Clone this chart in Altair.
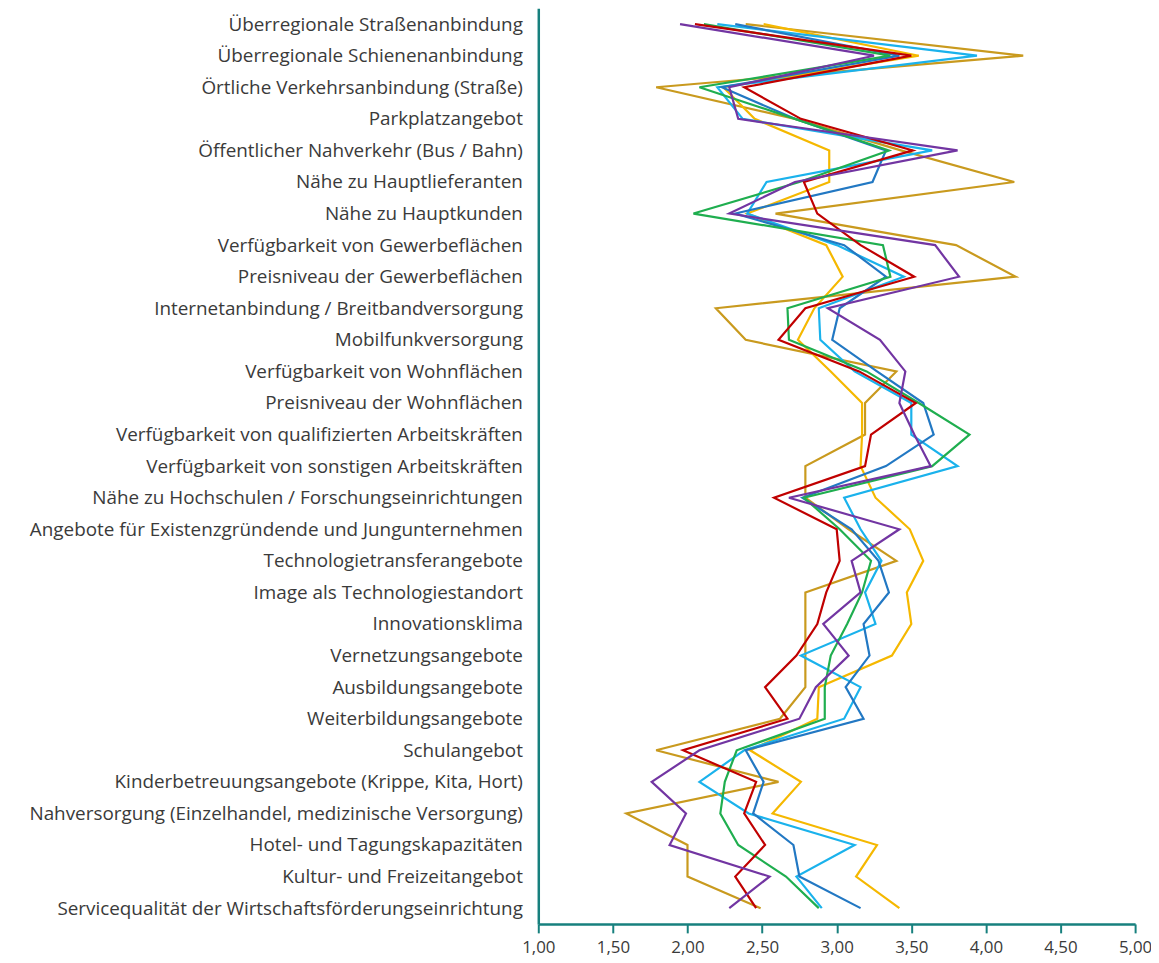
import altair as alt
import pandas as pd

kategorien = [
    "Überregionale Straßenanbindung",
    "Überregionale Schienenanbindung",
    "Örtliche Verkehrsanbindung (Straße)",
    "Parkplatzangebot",
    "Öffentlicher Nahverkehr (Bus / Bahn)",
    "Nähe zu Hauptlieferanten",
    "Nähe zu Hauptkunden",
    "Verfügbarkeit von Gewerbeflächen",
    "Preisniveau der Gewerbeflächen",
    "Internetanbindung  / Breitbandversorgung",
    "Mobilfunkversorgung",
    "Verfügbarkeit von Wohnflächen",
    "Preisniveau der Wohnflächen",
    "Verfügbarkeit von qualifizierten Arbeitskräften",
    "Verfügbarkeit von sonstigen Arbeitskräften",
    "Nähe zu Hochschulen / Forschungseinrichtungen",
    "Angebote für Existenzgründende und Jungunternehmen",
    "Technologietransferangebote",
    "Image als Technologiestandort",
    "Innovationsklima",
    "Vernetzungsangebote",
    "Ausbildungsangebote",
    "Weiterbildungsangebote",
    "Schulangebot",
    "Kinderbetreuungsangebote (Krippe, Kita, Hort)",
    "Nahversorgung (Einzelhandel, medizinische Versorgung)",
    "Hotel- und Tagungskapazitäten",
    "Kultur- und Freizeitangebot",
    "Servicequalität der Wirtschaftsförderungseinrichtung",
]

serie_rot = [2.05, 3.50, 2.38, 2.76, 3.51, 2.78, 2.87, 3.16, 3.52, 2.79, 2.61, 3.15, 3.53, 3.23, 3.19,
             2.58, 3.00, 3.02, 2.93, 2.87, 2.73, 2.52, 2.67, 1.97, 2.46, 2.38, 2.52, 2.32, 2.46]
serie_ocker = [2.39, 4.25, 1.79, 2.72, 3.43, 4.19, 2.59, 3.80, 4.20, 2.19, 2.39, 3.40, 3.19, 3.19, 2.79,
               2.79, 3.08, 3.40, 2.79, 2.79, 2.79, 2.79, 2.62, 1.79, 2.61, 1.59, 2.00, 2.00, 2.49]
serie_gelb = [2.51, 3.55, 2.24, 2.45, 2.95, 2.95, 2.40, 2.93, 3.04, 2.85, 2.74, 2.96, 3.17, 3.17, 3.16,
              3.26, 3.49, 3.58, 3.47, 3.50, 3.37, 2.88, 2.87, 2.42, 2.76, 2.57, 3.27, 3.13, 3.42]
serie_hellblau = [2.20, 3.94, 2.20, 2.37, 3.64, 2.53, 2.40, 3.00, 3.45, 2.88, 2.89, 3.12, 3.50, 3.50, 3.81,
                  3.05, 3.16, 3.30, 3.19, 3.26, 2.76, 3.16, 3.05, 2.38, 2.08, 2.41, 3.12, 2.73, 2.90]
serie_blau = [2.32, 3.42, 2.23, 2.72, 3.33, 3.24, 2.32, 3.05, 3.33, 3.02, 2.97, 3.27, 3.58, 3.65, 3.33,
              2.77, 3.10, 3.28, 3.35, 3.18, 3.22, 3.06, 3.18, 2.39, 2.51, 2.44, 2.71, 2.75, 3.16]
serie_gruen = [2.11, 3.36, 2.08, 2.72, 3.35, 2.75, 2.04, 3.31, 3.36, 2.67, 2.68, 3.20, 3.55, 3.89, 3.64,
               2.78, 3.02, 3.23, 3.17, 3.07, 2.96, 2.92, 2.92, 2.33, 2.25, 2.22, 2.34, 2.66, 2.88]
serie_lila = [1.95, 3.25, 2.28, 2.34, 3.81, 2.72, 2.28, 3.66, 3.82, 2.94, 3.29, 3.46, 3.42, 3.52, 3.63,
              2.68, 3.42, 3.10, 3.16, 2.91, 3.08, 2.86, 2.75, 2.08, 1.76, 1.99, 1.88, 2.55, 2.28]

serien_namen = ["Serie 1", "Serie 2", "Serie 3", "Serie 4", "Serie 5", "Serie 6", "Serie 7"]
serien_werte = [serie_ocker, serie_gelb, serie_hellblau, serie_blau, serie_gruen, serie_rot, serie_lila]
farben = ["#C99A1E", "#F5B800", "#1AB2EC", "#2278C3", "#1FAE4F", "#C00000", "#7235A2"]

x_ticks = [1.0, 1.5, 2.0, 2.5, 3.0, 3.5, 4.0, 4.5, 5.0]

rows = []
for name, werte in zip(serien_namen, serien_werte):
    for i, (k, v) in enumerate(zip(kategorien, werte)):
        rows.append({"kategorie": k, "idx": i, "serie": name, "wert": v})
df = pd.DataFrame(rows)

teal = "#17807E"
text_col = "#3A3A3A"

chart = alt.Chart(df).mark_line(strokeWidth=2.2, strokeJoin="miter").encode(
    x=alt.X("wert:Q",
            scale=alt.Scale(domain=[1, 5], nice=False, zero=False),
            axis=alt.Axis(values=x_ticks, grid=False, title=None,
                          labelExpr="replace(format(datum.value, '.2f'), '.', ',')",
                          domainColor=teal, domainWidth=2.5, tickColor=teal, tickWidth=2,
                          tickSize=9, labelFont="Open Sans", labelFontSize=17,
                          labelColor=text_col, labelPadding=7, labelFlush=False)),
    y=alt.Y("kategorie:N", sort=kategorien,
            axis=alt.Axis(title=None, ticks=False, grid=False, domainColor=teal, domainWidth=2.5,
                          labelFont="Open Sans", labelFontSize=19, labelColor=text_col,
                          labelPadding=16, labelLimit=700)),
    color=alt.Color("serie:N", scale=alt.Scale(domain=serien_namen, range=farben), legend=None),
    order=alt.Order("idx:Q"),
).properties(
    width=601,
    height=922,
    autosize=alt.AutoSizeParams(type="none"),
    padding={"left": 534, "top": -3, "right": 16, "bottom": 36},
).configure_view(stroke=None)

chart.save("out.html", embed_options={"renderer": "svg", "actions": False})
